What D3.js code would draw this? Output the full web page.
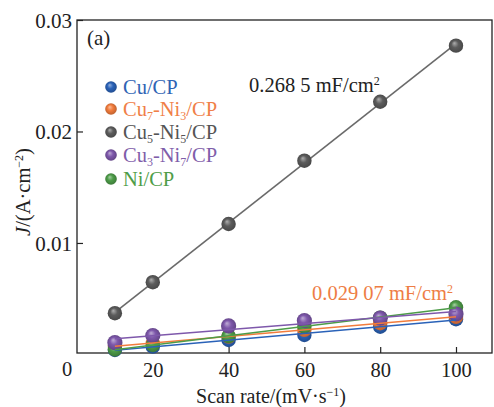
<!DOCTYPE html>
<html>
<head>
<meta charset="utf-8">
<script src="https://cdn.jsdelivr.net/npm/d3@7"></script>
<style>
  html, body { margin: 0; padding: 0; background: #fff; }
  svg { display: block; }
</style>
</head>
<body>
<script>
// Scan rates (mV/s)
const scanRates = [10, 20, 40, 60, 80, 100];

// Current density J (A/cm^2) per sample
const cuCP     = [0.00040, 0.00070, 0.00130, 0.00175, 0.00249, 0.00316];
const cu7ni3CP = [0.00075, 0.00100, 0.00160, 0.00220, 0.00280, 0.00337];
const cu5ni5CP = [0.00370, 0.00648, 0.01170, 0.01738, 0.02267, 0.02770];
const cu3ni7CP = [0.00106, 0.00169, 0.00256, 0.00303, 0.00325, 0.00363];
const niCP     = [0.00045, 0.00085, 0.00165, 0.00250, 0.00330, 0.00423];

const seriesNames = ["Cu/CP", "Cu7-Ni3/CP", "Cu5-Ni5/CP", "Cu3-Ni7/CP", "Ni/CP"];
const seriesColors = ["#2a62b8", "#f27c3c", "#5c5c5c", "#7e58ab", "#4d9c48"];
const textColors   = ["#2f64b4", "#f08048", "#555555", "#7f5eaa", "#4f9d48"];

const xTicks = [20, 40, 60, 80, 100];
const yTicks = [0.01, 0.02, 0.03];
const yTickLabels = ["0.01", "0.02", "0.03"];

const FONT = "Liberation Serif";
const W = 494, H = 407;
const mLeft = 77, mRight = 492, mTop = 20, mBottom = 353;

const svg = d3.select("body").append("svg").attr("width", W).attr("height", H);

const x = d3.scaleLinear().domain([0, 109.5]).range([mLeft, mRight]);
const y = d3.scaleLinear().domain([0.00013, 0.03]).range([mBottom, mTop]);

function label(px, py, size, color) {
  return svg.append("text").attr("x", px).attr("y", py)
    .attr("font-family", FONT).attr("font-size", size).attr("fill", color);
}

// sphere-like shading for the markers
const defs = svg.append("defs");
seriesColors.forEach((c, i) => {
  const g = defs.append("radialGradient").attr("id", "ball" + i)
    .attr("cx", "50%").attr("cy", "50%").attr("r", "55%")
    .attr("fx", "38%").attr("fy", "32%");
  g.append("stop").attr("offset", "0%").attr("stop-color", d3.interpolateRgb(c, "#ffffff")(0.5));
  g.append("stop").attr("offset", "45%").attr("stop-color", c);
  g.append("stop").attr("offset", "100%").attr("stop-color", d3.color(c).darker(0.8));
});

// axes with inward ticks
svg.append("g").attr("transform", `translate(0,${mBottom})`)
  .call(d3.axisBottom(x).tickValues(xTicks).tickSizeInner(-6).tickSizeOuter(0).tickPadding(9))
  .attr("font-family", FONT).attr("font-size", 20.5)
  .call(g => g.select(".domain").remove())
  .call(g => g.selectAll("line").attr("stroke", "#222").attr("stroke-width", 1.2))
  .call(g => g.selectAll("text").attr("fill", "#222"));

svg.append("g").attr("transform", `translate(${mLeft},0)`)
  .call(d3.axisLeft(y).tickValues(yTicks).tickFormat((d, i) => yTickLabels[i]).tickSizeInner(-6).tickSizeOuter(0).tickPadding(5))
  .attr("font-family", FONT).attr("font-size", 21)
  .call(g => g.select(".domain").remove())
  .call(g => g.selectAll("line").attr("stroke", "#222").attr("stroke-width", 1.2))
  .call(g => g.selectAll("text").attr("fill", "#222").attr("dy", "0.34em"));

// shared origin label
label(67, 376, 20.5, "#222").attr("text-anchor", "middle").text("0");

// frame
svg.append("rect").attr("x", mLeft).attr("y", mTop)
  .attr("width", mRight - mLeft).attr("height", mBottom - mTop)
  .attr("fill", "none").attr("stroke", "#222").attr("stroke-width", 1.3);

const allSeries = [cuCP, cu7ni3CP, cu5ni5CP, cu3ni7CP, niCP];

// least-squares fit line for each series
function fit(vals) {
  const mx = d3.mean(scanRates), my = d3.mean(vals);
  let sxy = 0, sxx = 0;
  scanRates.forEach((s, i) => { sxy += (s - mx) * (vals[i] - my); sxx += (s - mx) * (s - mx); });
  const k = sxy / sxx;
  return v => my + k * (v - mx);
}

const drawOrder = [0, 1, 2, 4, 3];
const plot = svg.append("g");

drawOrder.forEach(i => {
  const f = fit(allSeries[i]);
  const x0 = scanRates[0], x1 = scanRates[scanRates.length - 1];
  plot.append("line")
    .attr("x1", x(x0)).attr("y1", y(f(x0)))
    .attr("x2", x(x1)).attr("y2", y(f(x1)))
    .attr("stroke", i === 2 ? "#6a6a6a" : seriesColors[i])
    .attr("stroke-width", i === 2 ? 1.6 : 1.5)
    .attr("class", "fit" + i);
  plot.selectAll(".pt" + i).data(allSeries[i]).enter().append("circle")
    .attr("class", "pt" + i)
    .attr("cx", (d, j) => x(scanRates[j]))
    .attr("cy", d => y(d))
    .attr("r", i === 3 ? 7.6 : 7.2)
    .attr("fill", `url(#ball${i})`);
});
// fit lines of the low-capacitance samples drawn over the markers
[0, 1, 4, 3].forEach(i => plot.select(".fit" + i).raise());

// panel label
label(87, 45, 21, "#222").text("(a)");

// legend
const legendY = [87, 109, 132, 155, 179];
const subs = [[null], ["7", "3"], ["5", "5"], ["3", "7"], [null]];
seriesNames.forEach((n, i) => {
  svg.append("circle").attr("cx", 111).attr("cy", legendY[i]).attr("r", 5.8)
    .attr("fill", `url(#ball${i})`);
  const t = label(123, legendY[i] + 6.5, 20.5, textColors[i]);
  if (i === 0 || i === 4) { t.text(n); return; }
  t.append("tspan").text("Cu");
  t.append("tspan").attr("font-size", 12).attr("dy", 4).text(subs[i][0]);
  t.append("tspan").attr("dy", -4).text("-Ni");
  t.append("tspan").attr("font-size", 12).attr("dy", 4).text(subs[i][1]);
  t.append("tspan").attr("dy", -4).text("/CP");
});

// slope annotations
const a1 = label(249, 92, 20.5, "#222");
a1.append("tspan").text("0.268 5 mF/cm");
a1.append("tspan").attr("font-size", 12).attr("dy", -7).text("2");

const a2 = label(312, 300, 20.5, "#ee7d45");
a2.append("tspan").text("0.029 07 mF/cm");
a2.append("tspan").attr("font-size", 12).attr("dy", -7).text("2");

// axis titles
const xt = label(271, 403, 20, "#222").attr("text-anchor", "middle");
xt.append("tspan").text("Scan rate/(mV·s");
xt.append("tspan").attr("font-size", 12).attr("dy", -7).text("−1");
xt.append("tspan").attr("dy", 7).text(")");

const yt = label(0, 0, 20.5, "#222").attr("transform", "translate(30,192) rotate(-90)")
  .attr("text-anchor", "middle");
yt.append("tspan").attr("font-style", "italic").text("J");
yt.append("tspan").text("/(A·cm");
yt.append("tspan").attr("font-size", 12).attr("dy", -7).text("−2");
yt.append("tspan").attr("dy", 7).text(")");
</script>
</body>
</html>
